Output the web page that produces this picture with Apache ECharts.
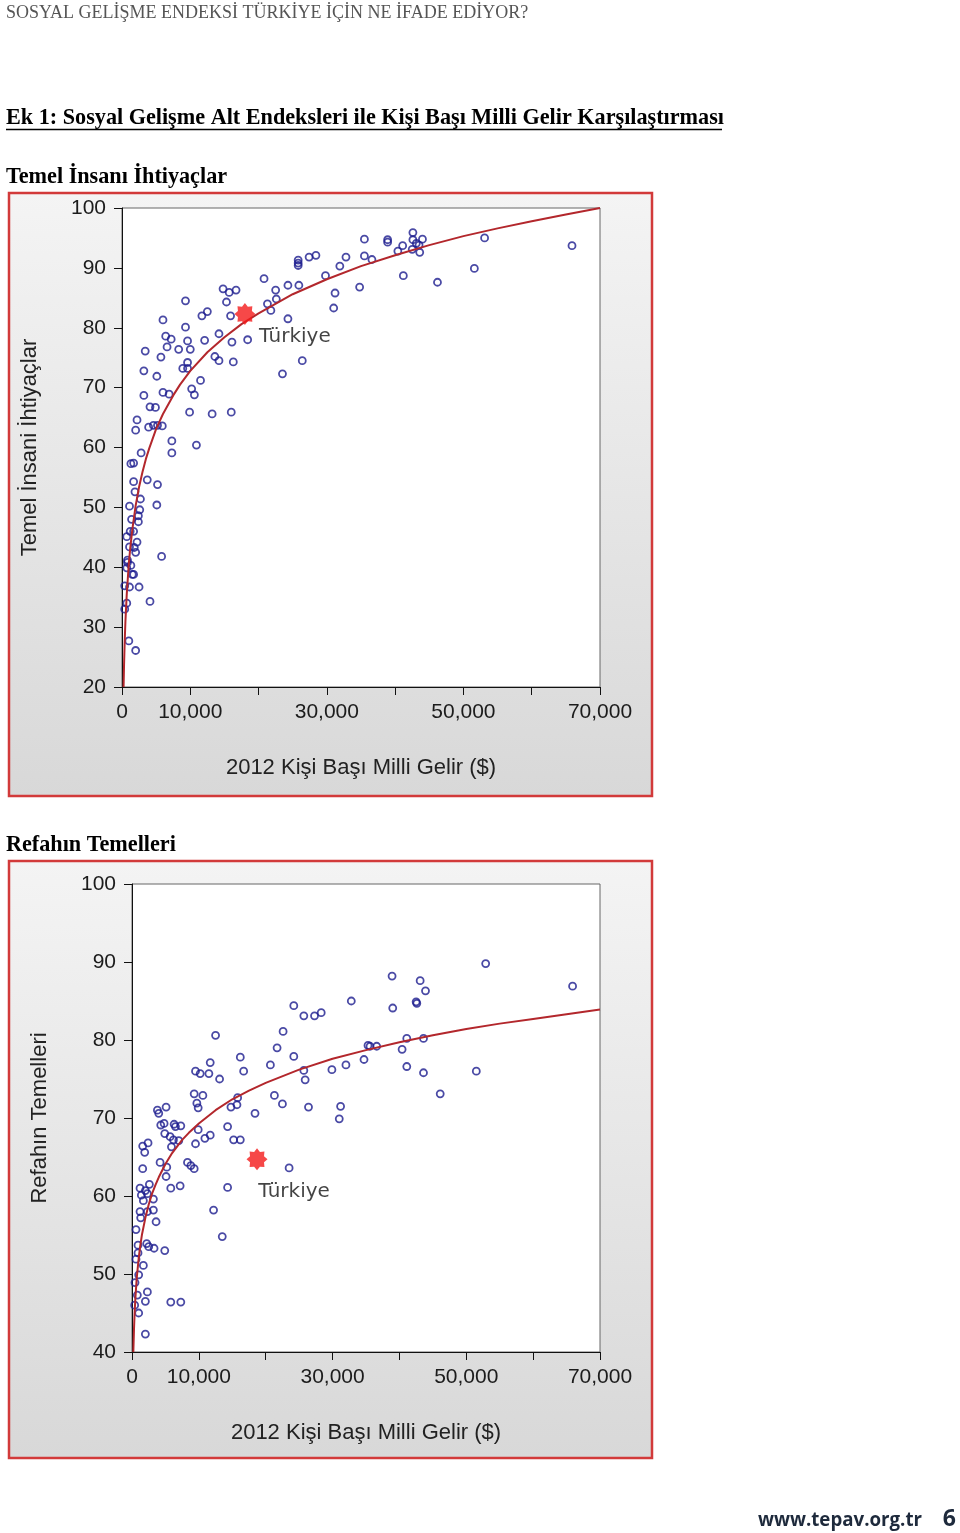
<!DOCTYPE html>
<html>
<head>
<meta charset="utf-8">
<script src="https://cdn.jsdelivr.net/npm/echarts@6/dist/echarts.min.js"></script>
<style>
  html, body { margin: 0; padding: 0; background: #fff; }
  #page { width: 960px; height: 1533px; }
</style>
</head>
<body>
<div id="page"></div>
<script>
// Temel İnsani İhtiyaçlar: [kişi başı gelir $, endeks]
const tiPoints = [
  [25800, 91.3], [25800, 90.8], [25800, 90.4], [27400, 91.8], [28400, 92.1], [32800, 91.8],
  [31900, 90.3], [29800, 88.7], [20800, 88.2], [24300, 87.1], [25900, 87.1], [22500, 86.3],
  [31200, 85.8], [14800, 86.5], [15700, 85.9], [16700, 86.3], [22600, 84.8], [21300, 84.0],
  [21800, 82.9], [31000, 83.3], [9300, 84.5], [15300, 84.3], [11700, 82.0], [12500, 82.7],
  [15900, 82.0], [24300, 81.5], [6000, 81.3], [9300, 80.1], [18400, 78.0], [16100, 77.6],
  [12100, 77.9], [14200, 79.0], [6400, 78.6], [7200, 78.1], [9600, 77.8], [6600, 76.8],
  [8300, 76.4], [10000, 76.4], [3400, 76.1], [5700, 75.1], [13600, 75.2], [14200, 74.5],
  [16300, 74.3], [26400, 74.5], [9600, 74.2], [8900, 73.2], [9600, 73.2], [3200, 72.8],
  [5100, 71.9], [23500, 72.3], [11500, 71.2], [10200, 69.8], [10600, 68.8], [6000, 69.2],
  [6900, 68.9], [3200, 68.7], [4100, 66.8], [4900, 66.7], [9900, 65.9], [13200, 65.6],
  [16000, 65.9], [2200, 64.6], [2000, 62.9], [3900, 63.4], [4600, 63.7], [5200, 63.7],
  [5900, 63.6], [7300, 61.1], [7300, 59.1], [10900, 60.4], [2800, 59.1], [1300, 57.3],
  [1700, 57.4], [1700, 54.3], [3700, 54.6], [5200, 53.8], [1900, 52.6], [2700, 51.4],
  [1100, 50.2], [5100, 50.4], [2600, 49.6], [2400, 48.6], [2400, 47.6], [1400, 48.0],
  [1200, 46.0], [1700, 46.0], [700, 45.1], [2200, 44.2], [1100, 43.4], [1800, 43.3],
  [2000, 42.5], [5800, 41.8], [800, 41.2], [800, 40.8], [700, 39.9], [1300, 40.3],
  [1500, 38.8], [1700, 38.8], [400, 36.9], [1100, 36.7], [2500, 36.7], [4100, 34.3],
  [700, 34.0], [400, 33.0], [1000, 27.7], [2000, 26.1], [34800, 86.8], [35500, 94.8],
  [35500, 92.0], [36600, 91.4], [38900, 94.7], [38900, 94.3], [41200, 88.7], [40400, 92.8],
  [41100, 93.7], [42600, 95.9], [42600, 94.7], [43100, 94.1], [43500, 93.8], [44000, 94.8],
  [42500, 93.1], [43600, 92.6], [46200, 87.6], [51600, 89.9], [53100, 95.0], [65900, 93.7]
];
const tiFit = [
  [230, 20.0], [300, 23.7], [400, 27.8], [500, 30.9], [700, 35.6], [1000, 40.6], [1200, 43.1],
  [1500, 46.2], [2000, 50.3], [2500, 53.4], [3000, 55.9], [3500, 58.1], [4000, 59.9],
  [5000, 63.1], [6000, 65.6], [7500, 68.7], [8500, 70.5], [10000, 72.8], [12500, 75.9],
  [15000, 78.4], [17500, 80.6], [20000, 82.4], [25000, 85.6], [30000, 88.1], [35000, 90.3],
  [40000, 92.1], [45000, 93.8], [50000, 95.3], [55000, 96.6], [60000, 97.8], [65000, 98.9],
  [70000, 100.0]
];
const tiTurkey = [18000, 82.3];

// Refahın Temelleri
const rtPoints = [
  [24200, 84.4], [25700, 83.1], [27300, 83.1], [28300, 83.5], [32800, 85.0], [12500, 80.6],
  [22600, 81.1], [21700, 79.0], [24200, 77.9], [16200, 77.8], [16700, 76.0], [11700, 77.1],
  [9500, 76.0], [10200, 75.7], [11500, 75.7], [13100, 75.0], [20700, 76.8], [25700, 76.1],
  [25900, 74.9], [29900, 76.2], [32000, 76.8], [34700, 77.5], [35300, 79.3], [35600, 79.2],
  [36600, 79.2], [9300, 73.1], [10600, 72.9], [9700, 71.9], [9900, 71.3], [3800, 71.0],
  [4000, 70.6], [5100, 71.4], [15800, 72.6], [15700, 71.7], [14800, 71.4], [21300, 72.9],
  [22500, 71.8], [18400, 70.6], [26400, 71.4], [31200, 71.5], [31000, 69.9], [52900, 89.8],
  [65900, 86.9], [38900, 88.2], [43100, 87.6], [43900, 86.3], [42500, 84.9], [42600, 84.7],
  [39000, 84.1], [41100, 80.2], [43600, 80.2], [40400, 78.8], [41100, 76.6], [43600, 75.8],
  [46100, 73.1], [51500, 76.0], [4300, 69.1], [4800, 69.3], [6300, 69.2], [6500, 68.9],
  [7300, 69.0], [9900, 68.5], [4900, 68.0], [5700, 67.6], [6200, 67.2], [7000, 67.1],
  [14300, 68.9], [11700, 67.8], [10900, 67.4], [15200, 67.2], [16200, 67.2], [9500, 66.7],
  [2400, 66.8], [1600, 66.4], [1900, 65.6], [5900, 66.3], [4200, 64.3], [5200, 63.7],
  [5100, 62.5], [8300, 64.3], [8800, 63.9], [9300, 63.5], [1600, 63.5], [23500, 63.6],
  [5800, 61.0], [7200, 61.3], [14300, 61.1], [2600, 61.5], [1200, 61.0], [2000, 60.7],
  [1400, 60.1], [2300, 60.3], [1700, 59.4], [3200, 59.6], [12200, 58.2], [1200, 58.0],
  [2300, 58.0], [3200, 58.2], [1300, 57.2], [3600, 56.7], [600, 55.7], [13500, 54.8],
  [900, 53.7], [2200, 53.9], [2500, 53.5], [3300, 53.3], [4900, 53.0], [900, 52.7],
  [600, 51.9], [1700, 51.1], [1000, 49.9], [450, 48.9], [2300, 47.7], [2000, 46.5],
  [800, 47.3], [400, 46.0], [1000, 45.0], [5800, 46.4], [7300, 46.4], [2000, 42.3]
];
const rtFit = [
  [200, 40.0], [300, 43.0], [400, 45.2], [500, 46.8], [700, 49.4], [1000, 52.0], [1200, 53.4],
  [1500, 55.1], [2000, 57.2], [2500, 58.9], [3000, 60.3], [3500, 61.4], [4000, 62.4],
  [5000, 64.1], [6000, 65.5], [7500, 67.2], [8500, 68.1], [10000, 69.3], [12500, 71.0],
  [15000, 72.4], [17500, 73.5], [20000, 74.5], [25000, 76.2], [30000, 77.6], [35000, 78.7],
  [40000, 79.7], [45000, 80.6], [50000, 81.4], [55000, 82.1], [60000, 82.7], [65000, 83.3],
  [70000, 83.9]
];
const rtTurkey = [18700, 64.7];

const xLabeled = [0, 10000, 30000, 50000, 70000];
const xName = '2012 Kişi Başı Milli Gelir ($)';

const starPath = 'path://M50,0 L63.78,16.74 L85.36,14.64 L83.26,36.22 L100,50 L83.26,63.78 L85.36,85.36 L63.78,83.26 L50,100 L36.22,83.26 L14.64,85.36 L16.74,63.78 L0,50 L16.74,36.22 L14.64,14.64 L36.22,16.74 Z';
const axisFont = '"Liberation Sans", Arial, sans-serif';

function xAxisFor(gridIndex) {
  return {
    gridIndex: gridIndex,
    type: 'value',
    min: 0,
    max: 70000,
    interval: 10000,
    name: xName,
    nameLocation: 'middle',
    nameGap: 70,
    nameTextStyle: { fontFamily: axisFont, fontSize: 22, color: '#222' },
    axisLine: { show: true, onZero: false, lineStyle: { color: '#111', width: 1 } },
    axisTick: { show: true, length: 8, lineStyle: { color: '#111' } },
    splitLine: { show: false },
    axisLabel: {
      margin: 15,
      fontFamily: axisFont,
      fontSize: 21,
      color: '#1c1c1c',
      showMaxLabel: true,
      formatter: v => xLabeled.indexOf(v) >= 0 ? v.toLocaleString('en-US') : ''
    }
  };
}

function yAxisFor(gridIndex, min, name) {
  return {
    gridIndex: gridIndex,
    type: 'value',
    min: min,
    max: 100,
    interval: 10,
    name: name,
    nameLocation: 'middle',
    nameGap: 81,
    nameTextStyle: { fontFamily: axisFont, fontSize: 22, color: '#222' },
    axisLine: { show: true, lineStyle: { color: '#111', width: 1 } },
    axisTick: { show: true, length: 8, lineStyle: { color: '#111' } },
    splitLine: { show: false },
    axisLabel: { margin: 16, fontFamily: axisFont, fontSize: 21, color: '#1c1c1c' }
  };
}

function pointsSeries(idx, data) {
  return {
    type: 'scatter',
    xAxisIndex: idx,
    yAxisIndex: idx,
    data: data,
    symbol: 'circle',
    symbolSize: 7,
    itemStyle: { color: 'rgba(0,0,0,0)', borderColor: '#1d1d8e', borderWidth: 1.8 },
    z: 3
  };
}

function fitSeries(idx, data) {
  return {
    type: 'line',
    xAxisIndex: idx,
    yAxisIndex: idx,
    data: data,
    showSymbol: false,
    symbol: 'none',
    smooth: false,
    lineStyle: { color: '#b3272c', width: 2 },
    z: 4
  };
}

function starSeries(idx, point, offset) {
  return {
    type: 'scatter',
    xAxisIndex: idx,
    yAxisIndex: idx,
    data: [{ value: point, name: 'Türkiye' }],
    symbol: starPath,
    symbolSize: [21, 22],
    itemStyle: { color: '#f41a1a' },
    label: {
      show: true,
      formatter: '{b}',
      position: 'bottom',
      offset: offset,
      fontFamily: '"DejaVu Sans", Verdana, sans-serif',
      fontSize: 20,
      color: '#141414'
    },
    z: 5
  };
}

function box(y, h) {
  return {
    type: 'rect',
    z: -10,
    shape: { x: 9, y: y, width: 643, height: h },
    style: {
      fill: {
        type: 'linear', x: 0, y: 0, x2: 0, y2: 1,
        colorStops: [{ offset: 0, color: '#f4f4f4' }, { offset: 1, color: '#d8d8d8' }]
      },
      stroke: '#d23a3a',
      lineWidth: 2.5
    }
  };
}

function serifText(txt, x, y, font, fill) {
  return {
    type: 'text', x: x, y: y,
    style: { text: txt, font: font, fill: fill || '#000', align: 'left', verticalAlign: 'middle' }
  };
}

const chart = echarts.init(document.getElementById('page'), null, { renderer: 'canvas' });

chart.setOption({
  animation: false,
  backgroundColor: '#fff',
  graphic: [
    box(193, 603),
    box(861, 597),
    serifText('SOSYAL GELİŞME ENDEKSİ TÜRKİYE İÇİN NE İFADE EDİYOR?', 6, 13, '18px "Liberation Serif"', '#555'),
    serifText('Ek 1: Sosyal Gelişme Alt Endeksleri ile Kişi Başı Milli Gelir Karşılaştırması', 6, 118, 'bold 22.2px "Liberation Serif"'),
    { type: 'line', shape: { x1: 6, y1: 129.5, x2: 722, y2: 129.5 }, style: { stroke: '#000', lineWidth: 1.5 } },
    serifText('Temel İnsanı İhtiyaçlar', 6, 177, 'bold 22.2px "Liberation Serif"'),
    serifText('Refahın Temelleri', 6, 845, 'bold 22.2px "Liberation Serif"'),
    {
      type: 'text', x: 922, y: 1521,
      style: { text: 'www.tepav.org.tr', font: 'bold 18.7px "Open Sans"', fill: '#1e2a3c', align: 'right', verticalAlign: 'middle' }
    },
    {
      type: 'text', x: 956, y: 1519,
      style: { text: '6', font: 'bold 23px "Open Sans"', fill: '#1e2a3c', align: 'right', verticalAlign: 'middle' }
    }
  ],
  grid: [
    { left: 122, top: 208, width: 478, height: 479, show: true, backgroundColor: '#fff', borderColor: '#666', borderWidth: 1 },
    { left: 132, top: 884, width: 468, height: 468, show: true, backgroundColor: '#fff', borderColor: '#666', borderWidth: 1 }
  ],
  xAxis: [xAxisFor(0), xAxisFor(1)],
  yAxis: [yAxisFor(0, 20, 'Temel İnsani İhtiyaçlar'), yAxisFor(1, 40, 'Refahın Temelleri')],
  series: [
    pointsSeries(0, tiPoints),
    fitSeries(0, tiFit),
    starSeries(0, tiTurkey, [50, -3]),
    pointsSeries(1, rtPoints),
    fitSeries(1, rtFit),
    starSeries(1, rtTurkey, [37, 6])
  ]
});
</script>
</body>
</html>
